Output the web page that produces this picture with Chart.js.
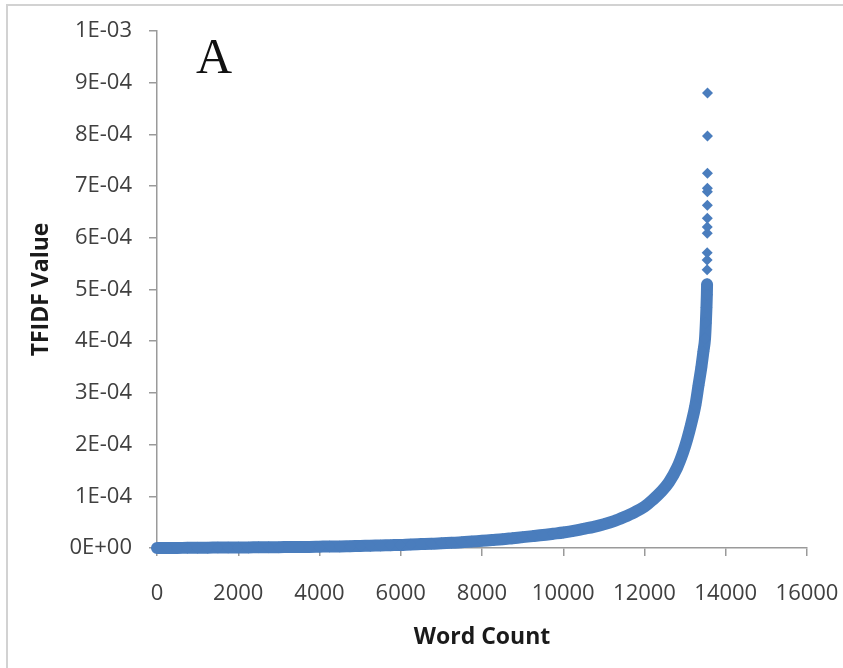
<!DOCTYPE html>
<html lang="en">
<head>
  <meta charset="UTF-8">
  <title>TFIDF Value vs Word Count</title>
  <script src="https://cdn.jsdelivr.net/npm/chart.js"></script>
  <style>
    body {
      margin: 0;
      background: #ffffff;
      overflow: hidden;
    }

    .frame {
      position: absolute;
      left: 6px;
      top: 4px;
      width: 900px;
      height: 720px;
      border: 2px solid #d2d2d2;
    }

    #wrap {
      position: absolute;
      left: 0;
      top: 0;
      width: 843px;
      height: 668px;
    }
  </style>
</head>
<body>

  <div class="frame"></div>
  <div id="wrap">
    <canvas id="tfidfChart" width="843" height="668"></canvas>
  </div>

  <script>
    // word rank (x) and TFIDF value in units of 1E-04 (y)
    const wordCount = [
      0, 250, 500, 750, 1000, 1250, 1500, 1750, 2000, 2250, 2500, 2750,
      3000, 3250, 3500, 3750, 4000, 4250, 4500, 4750, 5000, 5250, 5500, 5750,
      6000, 6250, 6500, 6750, 7000, 7250, 7500, 7750, 8000, 8250, 8500, 8750,
      9000, 9250, 9500, 9750, 10000, 10250, 10500, 10750, 11000, 11250, 11500, 11750,
      12000, 12200, 12400, 12600, 12800, 12950, 13050, 13150, 13250, 13330,
      13400, 13450, 13490, 13510, 13525, 13535, 13540
    ];
    const tfidfE4 = [
      0.00, 0.00, 0.00, 0.005, 0.005, 0.005, 0.01, 0.01, 0.01, 0.01, 0.015, 0.015,
      0.015, 0.02, 0.02, 0.02, 0.025, 0.03, 0.03, 0.035, 0.04, 0.045, 0.05, 0.055,
      0.06, 0.07, 0.075, 0.08, 0.09, 0.10, 0.11, 0.125, 0.14, 0.155, 0.17, 0.19,
      0.21, 0.23, 0.25, 0.275, 0.30, 0.33, 0.37, 0.41, 0.46, 0.52, 0.60, 0.69,
      0.80, 0.93, 1.08, 1.27, 1.55, 1.85, 2.10, 2.40, 2.75, 3.15,
      3.50, 3.80, 4.05, 4.35, 4.65, 4.90, 5.10
    ];

    // the few top words standing apart above the curve
    const topWordCount = [13541, 13542, 13543, 13544, 13545, 13546, 13547, 13548, 13548, 13549, 13550, 13551];
    const topTfidfE4 = [5.38, 5.57, 5.71, 6.09, 6.21, 6.38, 6.63, 6.89, 6.96, 7.25, 7.97, 8.80];

    const xTickLabels = ['0', '2000', '4000', '6000', '8000', '10000', '12000', '14000', '16000'];
    const yTickLabels = ['0E+00', '1E-04', '2E-04', '3E-04', '4E-04', '5E-04',
                         '6E-04', '7E-04', '8E-04', '9E-04', '1E-03'];

    const blue = '#4a7dbd';
    const axisGray = '#9a9a9a';

    const curvePoints = wordCount.map((x, i) => ({ x: x, y: tfidfE4[i] * 1e-4 }));
    const topPoints = topWordCount.map((x, i) => ({ x: x, y: topTfidfE4[i] * 1e-4 }));

    // panel letter inside the plot
    const panelLetter = {
      id: 'panelLetter',
      afterDraw(chart) {
        const c = chart.ctx;
        c.save();
        c.font = '50px "Liberation Serif", "DejaVu Serif", serif';
        c.fillStyle = '#111111';
        c.textAlign = 'center';
        c.textBaseline = 'alphabetic';
        c.fillText('A', 214, 73);
        c.restore();
      }
    };

    const tickFont = { family: '"Open Sans", sans-serif', size: 22 };
    const titleFont = { family: '"Open Sans", sans-serif', size: 23, weight: 'bold' };

    new Chart(document.getElementById('tfidfChart').getContext('2d'), {
      type: 'scatter',
      data: {
        datasets: [
          {
            label: 'TFIDF',
            data: curvePoints,
            showLine: true,
            borderColor: blue,
            borderWidth: 12,
            borderCapStyle: 'round',
            borderJoinStyle: 'round',
            cubicInterpolationMode: 'monotone',
            backgroundColor: blue,
            pointStyle: 'rectRot',
            pointRadius: 6,
            pointBorderWidth: 0,
            clip: false
          },
          {
            label: 'TFIDF top',
            data: topPoints,
            showLine: false,
            backgroundColor: blue,
            borderColor: blue,
            pointStyle: 'rectRot',
            pointRadius: 5.5,
            pointBorderWidth: 0,
            clip: false
          }
        ]
      },
      options: {
        responsive: false,
        animation: false,
        layout: {
          padding: { top: 31, right: 36, bottom: 0, left: 0 }
        },
        plugins: {
          legend: { display: false },
          tooltip: { enabled: false }
        },
        scales: {
          x: {
            type: 'linear',
            min: 0,
            max: 16000,
            afterFit(scale) {
              scale.height = 120;
              scale.paddingRight = 30;
            },
            ticks: {
              stepSize: 2000,
              padding: 25,
              maxRotation: 0,
              color: '#404040',
              font: tickFont,
              callback: (v, i) => xTickLabels[i]
            },
            grid: {
              display: true,
              drawOnChartArea: false,
              drawTicks: true,
              tickLength: 8,
              color: axisGray,
              lineWidth: 1.5
            },
            border: { display: true, color: axisGray, width: 1.5 },
            title: {
              display: true,
              text: 'Word Count',
              color: '#1a1a1a',
              font: titleFont,
              padding: { top: 0, bottom: 17 }
            }
          },
          y: {
            type: 'linear',
            min: 0,
            max: 0.001,
            afterFit(scale) { scale.width = 157; },
            ticks: {
              stepSize: 0.0001,
              padding: 17,
              color: '#404040',
              font: tickFont,
              callback: (v, i) => yTickLabels[i]
            },
            grid: {
              display: true,
              drawOnChartArea: false,
              drawTicks: true,
              tickLength: 8,
              color: axisGray,
              lineWidth: 1.5
            },
            border: { display: true, color: axisGray, width: 1.5 },
            title: {
              display: true,
              text: 'TFIDF Value',
              color: '#1a1a1a',
              font: titleFont,
              padding: { top: 28, bottom: 0 }
            }
          }
        }
      },
      plugins: [panelLetter]
    });
  </script>

</body>
</html>
